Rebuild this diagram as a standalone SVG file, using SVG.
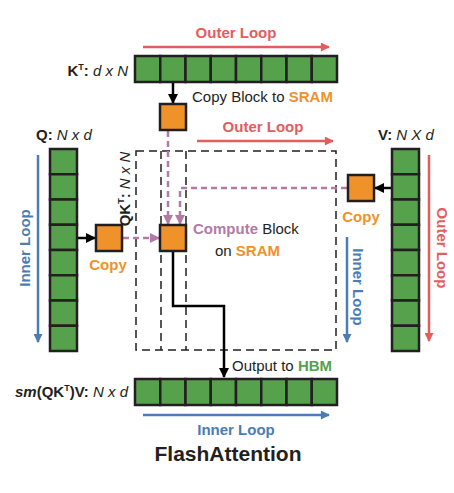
<svg xmlns="http://www.w3.org/2000/svg" width="454" height="493" viewBox="0 0 454 493">
<defs>
<style>
.cell{fill:#56a14c;stroke:#231f20;stroke-width:2.5}
.blk{fill:#f0922a;stroke:#231f20;stroke-width:2.5}
.t{font-family:"Liberation Sans",Arial,sans-serif;font-size:15px;fill:#231f20}
.b{font-weight:bold}
.i{font-style:italic}
.red{fill:#e35d5d}
.blue{fill:#4a7db5}
.org{fill:#f0922a}
.pur{fill:#b37aa6}
.grn{fill:#56a14c}
.sup{font-size:9px;font-weight:bold}
.title{font-size:21px;font-weight:bold}
.dash{fill:none;stroke:#231f20;stroke-width:1.5;stroke-dasharray:8 5}
</style>
<marker id="ak" viewBox="0 0 10 10" refX="9" refY="5" markerWidth="10" markerHeight="10" markerUnits="userSpaceOnUse" orient="auto"><path d="M0,0L10,5L0,10z" fill="#000"/></marker>
<marker id="ap" viewBox="0 0 10 10" refX="9" refY="5" markerWidth="10" markerHeight="10" markerUnits="userSpaceOnUse" orient="auto"><path d="M0,0L10,5L0,10z" fill="#b37aa6"/></marker>
<marker id="ar" viewBox="0 0 10 10" refX="9" refY="5" markerWidth="11" markerHeight="9" markerUnits="userSpaceOnUse" orient="auto"><path d="M0,0L10,5L0,10z" fill="#e35d5d"/></marker>
<marker id="ab" viewBox="0 0 10 10" refX="9" refY="5" markerWidth="11" markerHeight="9" markerUnits="userSpaceOnUse" orient="auto"><path d="M0,0L10,5L0,10z" fill="#4a7db5"/></marker>
</defs>
<rect width="454" height="493" fill="#fff"/>

<g id="dashed-region">
<rect class="dash" x="136" y="151" width="200" height="199"/>
<line class="dash" x1="161" y1="151" x2="161" y2="350"/>
<line class="dash" x1="186" y1="151" x2="186" y2="350"/>
</g>

<g id="connectors">
<line x1="173" y1="83" x2="173" y2="103" stroke="#000" stroke-width="2.5" marker-end="url(#ak)"/>
<line x1="78" y1="238" x2="95" y2="238" stroke="#000" stroke-width="2.5" marker-end="url(#ak)"/>
<line x1="391" y1="188" x2="375" y2="188" stroke="#000" stroke-width="2.5" marker-end="url(#ak)"/>
<line x1="123" y1="238" x2="159" y2="238" stroke="#b37aa6" stroke-width="2.5" stroke-dasharray="6 4" marker-end="url(#ap)"/>
<line x1="168" y1="131" x2="168" y2="224" stroke="#b37aa6" stroke-width="2.5" stroke-dasharray="6 4" marker-end="url(#ap)"/>
<polyline points="347,188 180,188 180,224" fill="none" stroke="#b37aa6" stroke-width="2.5" stroke-dasharray="6 4" marker-end="url(#ap)"/>
<polyline points="173,252 173,306 224,306 224,377" fill="none" stroke="#000" stroke-width="2.5" marker-end="url(#ak)"/>
<line x1="143" y1="47" x2="329" y2="47" stroke="#e35d5d" stroke-width="2.5" marker-end="url(#ar)"/>
<line x1="197" y1="141" x2="333" y2="141" stroke="#e35d5d" stroke-width="2.5" marker-end="url(#ar)"/>
<line x1="429" y1="155" x2="429" y2="341" stroke="#e35d5d" stroke-width="2.5" marker-end="url(#ar)"/>
<line x1="38" y1="155" x2="38" y2="342" stroke="#4a7db5" stroke-width="2.5" marker-end="url(#ab)"/>
<line x1="347" y1="237" x2="347" y2="342" stroke="#4a7db5" stroke-width="2.5" marker-end="url(#ab)"/>
<line x1="143" y1="415" x2="329" y2="415" stroke="#4a7db5" stroke-width="2.5" marker-end="url(#ab)"/>
</g>

<g id="K">
<rect class="cell" x="135" y="56" width="25.25" height="26"/>
<rect class="cell" x="160.25" y="56" width="25.25" height="26"/>
<rect class="cell" x="185.5" y="56" width="25.25" height="26"/>
<rect class="cell" x="210.75" y="56" width="25.25" height="26"/>
<rect class="cell" x="236" y="56" width="25.25" height="26"/>
<rect class="cell" x="261.25" y="56" width="25.25" height="26"/>
<rect class="cell" x="286.5" y="56" width="25.25" height="26"/>
<rect class="cell" x="311.75" y="56" width="25.25" height="26"/>
<text class="t" x="128" y="76" text-anchor="end"><tspan class="b">K</tspan><tspan class="sup" dy="-6">T</tspan><tspan class="b" dy="6">:</tspan><tspan class="i"> d x N</tspan></text>
</g>

<g id="Q">
<rect class="cell" x="50" y="149" width="27" height="25.25"/>
<rect class="cell" x="50" y="174.25" width="27" height="25.25"/>
<rect class="cell" x="50" y="199.5" width="27" height="25.25"/>
<rect class="cell" x="50" y="224.75" width="27" height="25.25"/>
<rect class="cell" x="50" y="250" width="27" height="25.25"/>
<rect class="cell" x="50" y="275.25" width="27" height="25.25"/>
<rect class="cell" x="50" y="300.5" width="27" height="25.25"/>
<rect class="cell" x="50" y="325.75" width="27" height="25.25"/>
<text class="t" x="36" y="140"><tspan class="b">Q:</tspan><tspan class="i"> N x d</tspan></text>
</g>

<g id="V">
<rect class="cell" x="392" y="149" width="27" height="25.25"/>
<rect class="cell" x="392" y="174.25" width="27" height="25.25"/>
<rect class="cell" x="392" y="199.5" width="27" height="25.25"/>
<rect class="cell" x="392" y="224.75" width="27" height="25.25"/>
<rect class="cell" x="392" y="250" width="27" height="25.25"/>
<rect class="cell" x="392" y="275.25" width="27" height="25.25"/>
<rect class="cell" x="392" y="300.5" width="27" height="25.25"/>
<rect class="cell" x="392" y="325.75" width="27" height="25.25"/>
<text class="t" x="378" y="140"><tspan class="b">V:</tspan><tspan class="i"> N X d</tspan></text>
</g>

<g id="O">
<rect class="cell" x="135" y="379" width="25.25" height="26"/>
<rect class="cell" x="160.25" y="379" width="25.25" height="26"/>
<rect class="cell" x="185.5" y="379" width="25.25" height="26"/>
<rect class="cell" x="210.75" y="379" width="25.25" height="26"/>
<rect class="cell" x="236" y="379" width="25.25" height="26"/>
<rect class="cell" x="261.25" y="379" width="25.25" height="26"/>
<rect class="cell" x="286.5" y="379" width="25.25" height="26"/>
<rect class="cell" x="311.75" y="379" width="25.25" height="26"/>
<text class="t" x="128" y="397" text-anchor="end"><tspan class="b i">sm</tspan><tspan class="b">(QK</tspan><tspan class="sup" dy="-6">T</tspan><tspan class="b" dy="6">)V:</tspan><tspan class="i"> N x d</tspan></text>
</g>

<g id="kblock">
<rect class="blk" x="160" y="104" width="26" height="26"/>
<text class="t" x="192" y="102">Copy Block to <tspan class="b org">SRAM</tspan></text>
</g>

<g id="qcopy">
<rect class="blk" x="96" y="225" width="26" height="26"/>
<text class="t b org" x="108" y="270" text-anchor="middle">Copy</text>
</g>

<g id="compute">
<rect class="blk" x="160" y="225" width="26" height="26"/>
<text class="t" x="193" y="234"><tspan class="b pur">Compute</tspan> Block</text>
<text class="t" x="215" y="256">on <tspan class="b org">SRAM</tspan></text>
</g>

<g id="vcopy">
<rect class="blk" x="348" y="175" width="26" height="26"/>
<text class="t b org" x="361" y="222" text-anchor="middle">Copy</text>
</g>

<g id="labels">
<text class="t b red" x="236" y="38" text-anchor="middle">Outer Loop</text>
<text class="t b red" x="263" y="132" text-anchor="middle">Outer Loop</text>
<text class="t b red" transform="translate(437,248) rotate(90)" text-anchor="middle">Outer Loop</text>
<text class="t b blue" transform="translate(30,248) rotate(-90)" text-anchor="middle">Inner Loop</text>
<text class="t b blue" transform="translate(353,287) rotate(90)" text-anchor="middle">Inner Loop</text>
<text class="t b blue" x="236" y="435" text-anchor="middle">Inner Loop</text>
<text class="t" transform="translate(130,189) rotate(-90)" text-anchor="middle"><tspan class="b">QK</tspan><tspan class="sup" dy="-6">T</tspan><tspan class="b" dy="6">:</tspan><tspan class="i"> N x N</tspan></text>
<text class="t" x="232" y="371">Output to <tspan class="b grn">HBM</tspan></text>
<text class="t title" x="228" y="461" text-anchor="middle">FlashAttention</text>
</g>
</svg>
